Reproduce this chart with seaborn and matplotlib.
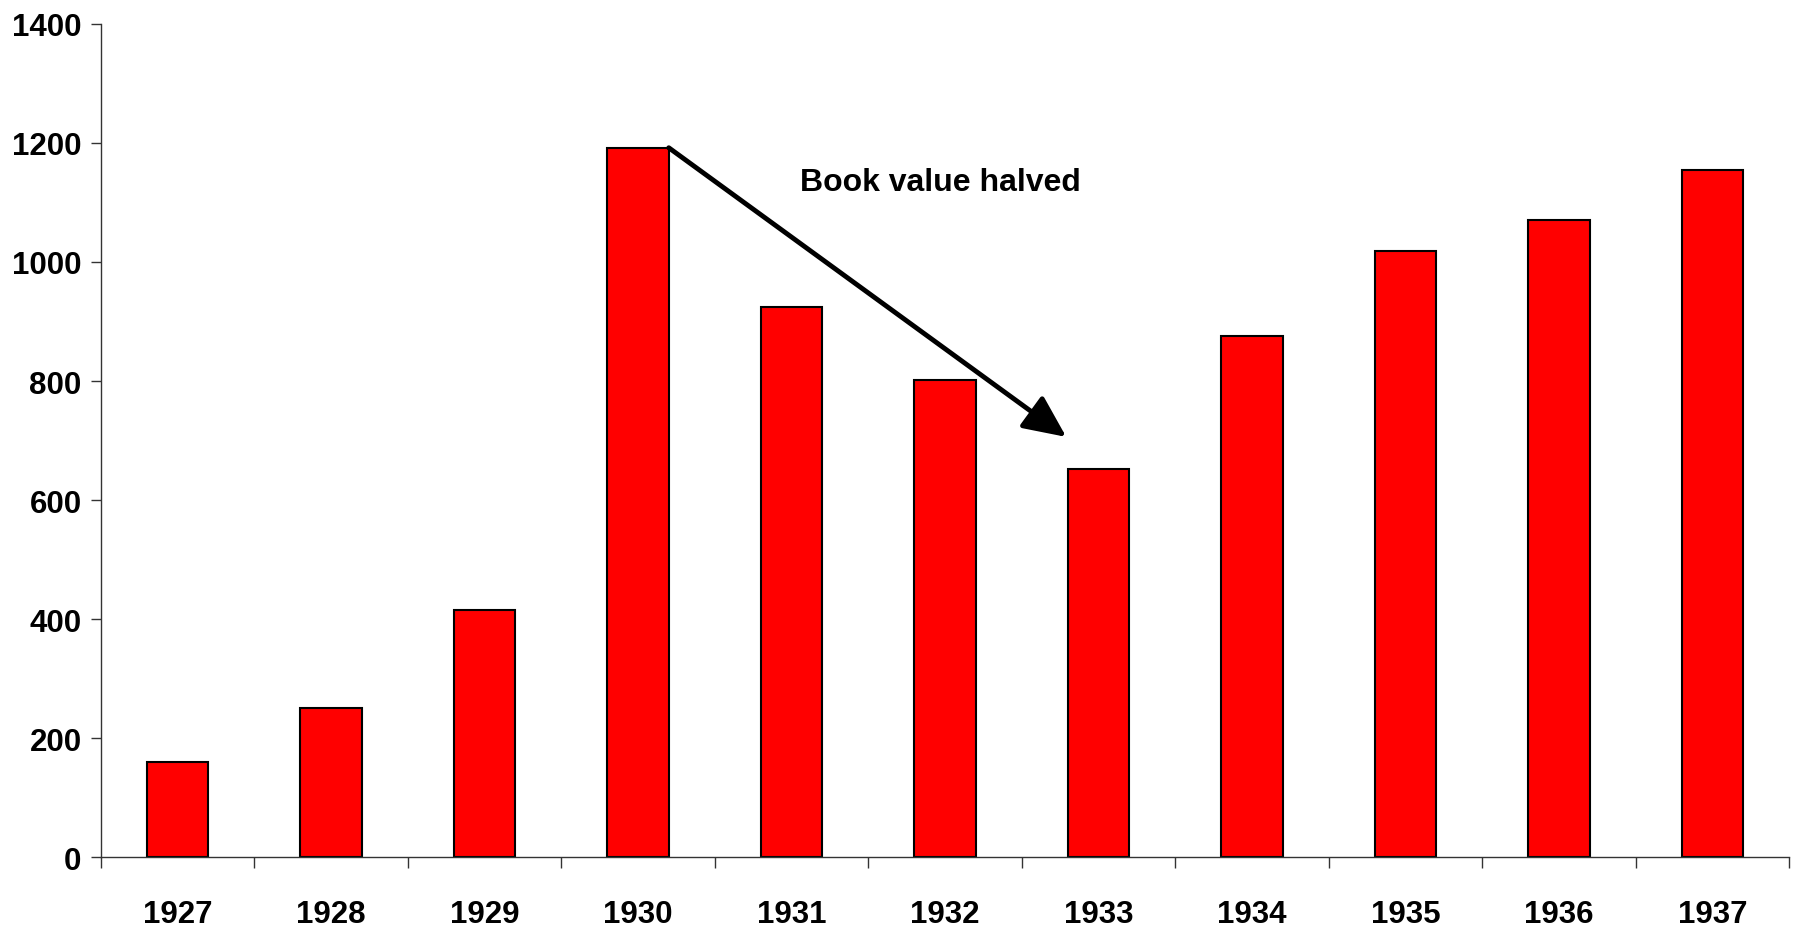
import matplotlib
matplotlib.use('Agg')
import matplotlib.pyplot as plt
import seaborn as sns
import pandas as pd
import numpy as np

# データ
years = ['1927', '1928', '1929', '1930', '1931', '1932',
         '1933', '1934', '1935', '1936', '1937']
values = [160, 250, 415, 1192, 925, 802, 652, 875, 1019, 1071, 1154]
y_ticks = [0, 200, 400, 600, 800, 1000, 1200, 1400]
note_text = 'Book value halved'

sns.set_style('white')
plt.rcParams['font.family'] = ['Liberation Sans', 'DejaVu Sans']
plt.rcParams['font.weight'] = 'bold'
plt.rcParams['text.color'] = 'black'
plt.rcParams['xtick.color'] = 'black'
plt.rcParams['ytick.color'] = 'black'

df = pd.DataFrame({'year': years, 'value': values})

fig = plt.figure(figsize=(17.93, 9.29), dpi=100)
ax = fig.add_axes([0.0563, 0.0764, 0.9415, 0.8967])

sns.barplot(data=df, x='year', y='value', color='#ff0000', saturation=1,
            edgecolor='black', linewidth=1.5, width=0.4, ax=ax)

n = len(years)
ax.set_xlim(-0.5, n - 0.5)
ax.set_ylim(0, 1400)
ax.set_yticks(y_ticks)
ax.set_yticklabels([str(t) for t in y_ticks], fontsize=22.5, fontweight='bold')
ax.set_xticks(range(n))
ax.set_xticklabels(years, fontsize=22.5, fontweight='bold')
ax.set_xticks(np.arange(-0.5, n, 1.0), minor=True)
ax.tick_params(axis='x', which='major', length=0, pad=30, labelcolor='black')
ax.tick_params(axis='x', which='minor', length=8, width=1, color='#333333',
               direction='out', bottom=True)
ax.tick_params(axis='y', which='major', length=7, width=1, color='#333333',
               direction='out', left=True, pad=7, labelcolor='black')
ax.set_xlabel('')
ax.set_ylabel('')

for side in ['top', 'right']:
    ax.spines[side].set_visible(False)
for side in ['left', 'bottom']:
    ax.spines[side].set_color('#333333')
    ax.spines[side].set_linewidth(1)

# 矢印と注記
ax.annotate('', xy=(5.79, 706), xytext=(3.2, values[3]),
            arrowprops=dict(arrowstyle='-|>,head_length=1.3,head_width=0.6',
                            mutation_scale=20, lw=3.5, color='black',
                            shrinkA=0, shrinkB=0))
ax.text(4.97, 1134, note_text, fontsize=23, fontweight='bold',
        color='black', ha='center', va='center')

fig.savefig('out.png', dpi=100)
